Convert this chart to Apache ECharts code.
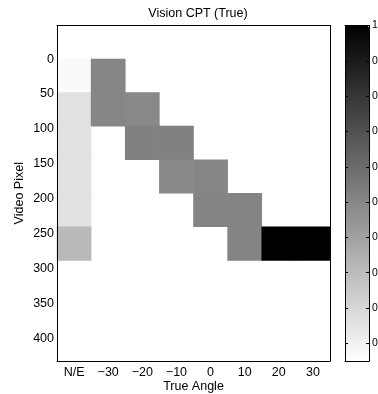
<!DOCTYPE html>
<html>
<head>
<meta charset="utf-8">
<script src="https://cdn.jsdelivr.net/npm/echarts@6/dist/echarts.min.js"></script>
<style>
  html, body { margin: 0; padding: 0; background: #fff; }
  #chart { width: 378px; height: 394px; }
</style>
</head>
<body>
<div id="chart"></div>
<script>
// true angle categories (x) and video pixel bins (y)
const angleLabels = ['N/E', '\u221230', '\u221220', '\u221210', '0', '10', '20', '30'];
const binEdges = [0, 48, 96, 144, 192, 240, 288];
const pixelTicks = [0, 50, 100, 150, 200, 250, 300, 350, 400];
const colorTicks = [0.1, 0.2, 0.3, 0.4, 0.5, 0.6, 0.7, 0.8, 0.9, 1];

// P(pixel bin | angle), one row per bin, one column per angle
const cpt = [
  [0.07, 0.50, 0,    0,    0,    0,    0, 0],
  [0.16, 0.50, 0.49, 0,    0,    0,    0, 0],
  [0.16, 0,    0.52, 0.52, 0,    0,    0, 0],
  [0.16, 0,    0,    0.49, 0.50, 0,    0, 0],
  [0.16, 0,    0,    0,    0.51, 0.51, 0, 0],
  [0.31, 0,    0,    0,    0,    0.51, 1, 1]
];

let cells = [];
cpt.forEach((row, i) => {
  row.forEach((p, j) => {
    if (p > 0) cells.push([j, binEdges[i], binEdges[i + 1], p]);
  });
});

const font = 'Liberation Sans, Arial, Helvetica, sans-serif';
const frame = { show: true, onZero: false, lineStyle: { color: '#000', width: 1 } };

let chart = echarts.init(document.getElementById('chart'), null, { renderer: 'canvas' });

let option = {
  animation: false,
  backgroundColor: '#fff',
  textStyle: { fontFamily: font },
  title: {
    text: 'Vision CPT (True)',
    left: 193, top: 2, textAlign: 'center',
    textStyle: { fontSize: 12.5, fontWeight: 'normal', color: '#000', fontFamily: font }
  },
  grid: [
    { left: 57, top: 25.5, width: 273, height: 335.5, outerBoundsMode: 'none', containLabel: false },
    { left: 345, top: 25.5, width: 24, height: 335.5, outerBoundsMode: 'none', containLabel: false }
  ],
  xAxis: [
    {
      gridIndex: 0, type: 'category', data: angleLabels, position: 'bottom',
      boundaryGap: true, z: 10,
      name: 'True Angle', nameLocation: 'middle', nameGap: 19, nameMoveOverlap: false,
      nameTextStyle: { fontSize: 12.5, color: '#000' },
      axisLine: frame,
      axisTick: { inside: true, length: 3, alignWithLabel: true, lineStyle: { color: '#000' } },
      axisLabel: { color: '#000', fontSize: 12.5, margin: 5, interval: 0 },
      splitLine: { show: false }
    },
    {
      gridIndex: 0, type: 'category', data: angleLabels, position: 'top',
      boundaryGap: true, z: 10,
      axisLine: frame,
      axisTick: { inside: true, length: 3, alignWithLabel: true, lineStyle: { color: '#000' } },
      axisLabel: { show: false },
      splitLine: { show: false }
    },
    {
      gridIndex: 1, type: 'value', min: 0, max: 1, position: 'bottom', z: 10,
      axisLine: frame, axisTick: { show: false }, axisLabel: { show: false }, splitLine: { show: false }
    },
    {
      gridIndex: 1, type: 'value', min: 0, max: 1, position: 'top', z: 10,
      axisLine: frame, axisTick: { show: false }, axisLabel: { show: false }, splitLine: { show: false }
    }
  ],
  yAxis: [
    {
      gridIndex: 0, type: 'value', inverse: true, min: -48, max: 432, position: 'left', z: 10,
      name: 'Video Pixel', nameLocation: 'middle', nameGap: 31, nameMoveOverlap: false,
      nameTextStyle: { fontSize: 12.5, color: '#000' },
      axisLine: frame,
      axisTick: { inside: true, length: 3, customValues: pixelTicks, lineStyle: { color: '#000' } },
      axisLabel: { color: '#000', fontSize: 12.5, margin: 3, customValues: pixelTicks },
      splitLine: { show: false }
    },
    {
      gridIndex: 0, type: 'value', inverse: true, min: -48, max: 432, position: 'right', z: 10,
      axisLine: frame,
      axisTick: { inside: true, length: 3, customValues: pixelTicks, lineStyle: { color: '#000' } },
      axisLabel: { show: false },
      splitLine: { show: false }
    },
    {
      gridIndex: 1, type: 'value', min: 0.05, max: 1, position: 'left', z: 10,
      axisLine: frame,
      axisTick: { inside: true, length: 3, customValues: colorTicks, lineStyle: { color: '#000' } },
      axisLabel: { show: false },
      splitLine: { show: false }
    },
    {
      gridIndex: 1, type: 'value', min: 0.05, max: 1, position: 'right', z: 10,
      axisLine: frame,
      axisTick: { inside: true, length: 3, customValues: colorTicks, lineStyle: { color: '#000' } },
      axisLabel: {
        color: '#000', fontSize: 10.5, margin: 3, customValues: colorTicks,
        formatter: v => (v >= 1 ? '1' : v.toFixed(1))
      },
      splitLine: { show: false }
    }
  ],
  visualMap: {
    type: 'continuous',
    min: 0.05, max: 1,
    dimension: 3,
    seriesIndex: 0,
    orient: 'vertical',
    left: 345, top: 25.5,
    itemWidth: 24, itemHeight: 335.5,
    padding: 0,
    calculable: false,
    hoverLink: false,
    text: null,
    inRange: { color: ['#ffffff', '#000000'] }
  },
  series: [
    {
      type: 'custom',
      xAxisIndex: 0, yAxisIndex: 0,
      encode: { x: 0, y: [1, 2] },
      data: cells,
      renderItem: function (params, api) {
        const p0 = api.coord([api.value(0), api.value(1)]);
        const p1 = api.coord([api.value(0), api.value(2)]);
        const w = api.size([1, 0])[0];
        return {
          type: 'rect',
          shape: { x: p0[0] - w / 2 - 0.3, y: p0[1] - 0.3, width: w + 0.6, height: p1[1] - p0[1] + 0.6 },
          style: { fill: api.visual('color') }
        };
      }
    }
  ]
};

chart.setOption(option);
</script>
</body>
</html>
